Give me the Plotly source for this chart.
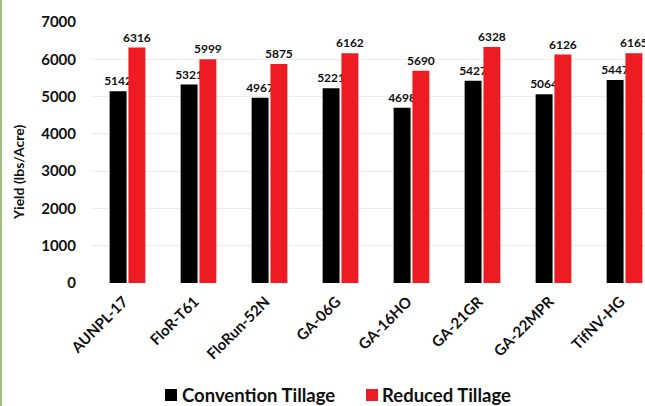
import plotly.graph_objects as go

categories = ["AUNPL-17", "FloR-T61", "FloRun-52N", "GA-06G", "GA-16HO", "GA-21GR", "GA-22MPR", "TifNV-HG"]
conventional = [5142, 5321, 4967, 5221, 4698, 5427, 5064, 5447]
reduced = [6316, 5999, 5875, 6162, 5690, 6328, 6126, 6165]
y_ticks = [0, 1000, 2000, 3000, 4000, 5000, 6000, 7000]
series_names = ["Convention Tillage", "Reduced Tillage"]
series_colors = ["#000000", "#EC1C22"]

FONT = "Lato"
W, H = 645, 406
L, R, T, B = 92, 0, 22, 123

label_font = dict(family=FONT, size=12, color="#111111", weight="bold")

fig = go.Figure()
for name, vals, col in zip(series_names, [conventional, reduced], series_colors):
    fig.add_trace(go.Bar(
        name=name, x=categories, y=vals,
        marker=dict(color=col, line=dict(width=0)),
        text=[str(v) for v in vals], textposition="outside",
        textfont=label_font, constraintext="none", cliponaxis=False,
    ))

plot_w = W - L - R
plot_h = H - T - B


def px_x(x):
    return (x - L) / plot_w


def px_y(y):
    return (T + plot_h - y) / plot_h


# manual legend (squares + text) to match the reference spacing
legend_items = [(165, 182, 0), (366, 382, 1)]
shapes = [dict(
    type="rect", xref="paper", yref="paper",
    x0=px_x(0), x1=px_x(2), y0=px_y(H), y1=px_y(0),
    fillcolor="#9cc183", line=dict(width=0), layer="above",
)]
annotations = [dict(
    text="Yield (lbs/Acre)", xref="paper", yref="paper",
    x=px_x(18), y=px_y(172),
    xanchor="center", yanchor="middle", textangle=-90, showarrow=False,
    font=dict(family=FONT, size=14, color="#111111", weight="bold"),
)]
for sq_x, tx_x, i in legend_items:
    shapes.append(dict(
        type="rect", xref="paper", yref="paper",
        x0=px_x(sq_x), x1=px_x(sq_x + 12), y0=px_y(401), y1=px_y(389),
        fillcolor=series_colors[i], line=dict(width=0),
    ))
    annotations.append(dict(
        text=series_names[i], xref="paper", yref="paper",
        x=px_x(tx_x - 2), y=px_y(395), xanchor="left", yanchor="middle",
        showarrow=False,
        font=dict(family=FONT, size=18.5, color="#111111", weight="bold"),
    ))

fig.update_layout(
    width=W, height=H,
    margin=dict(l=L, r=R, t=T, b=B, autoexpand=False),
    paper_bgcolor="white", plot_bgcolor="white",
    barmode="group", bargap=0.47, bargroupgap=0.1,
    font=dict(family=FONT, color="#111111"),
    showlegend=False,
    xaxis=dict(
        range=[-0.5, -0.5 + plot_w / 71.0],
        tickangle=-45, showgrid=False, zeroline=False, showline=False,
        tickfont=dict(family=FONT, size=15, color="#111111", weight="bold"),
        automargin=False, ticks="", ticklabelstandoff=6, ticklabelshift=-4,
    ),
    yaxis=dict(
        range=[0, 7000], tickvals=y_ticks, ticktext=[str(v) for v in y_ticks],
        showgrid=True, gridcolor="#ececec", gridwidth=1, zeroline=False, showline=False,
        tickfont=dict(family=FONT, size=15, color="#111111", weight="bold"),
        ticklabelstandoff=15, automargin=False,
    ),
    annotations=annotations,
    shapes=shapes,
)

fig.write_html(
    "out.html",
    config={"displayModeBar": False},
    post_script="document.body.style.margin='0';document.body.style.overflow='hidden';",
)
